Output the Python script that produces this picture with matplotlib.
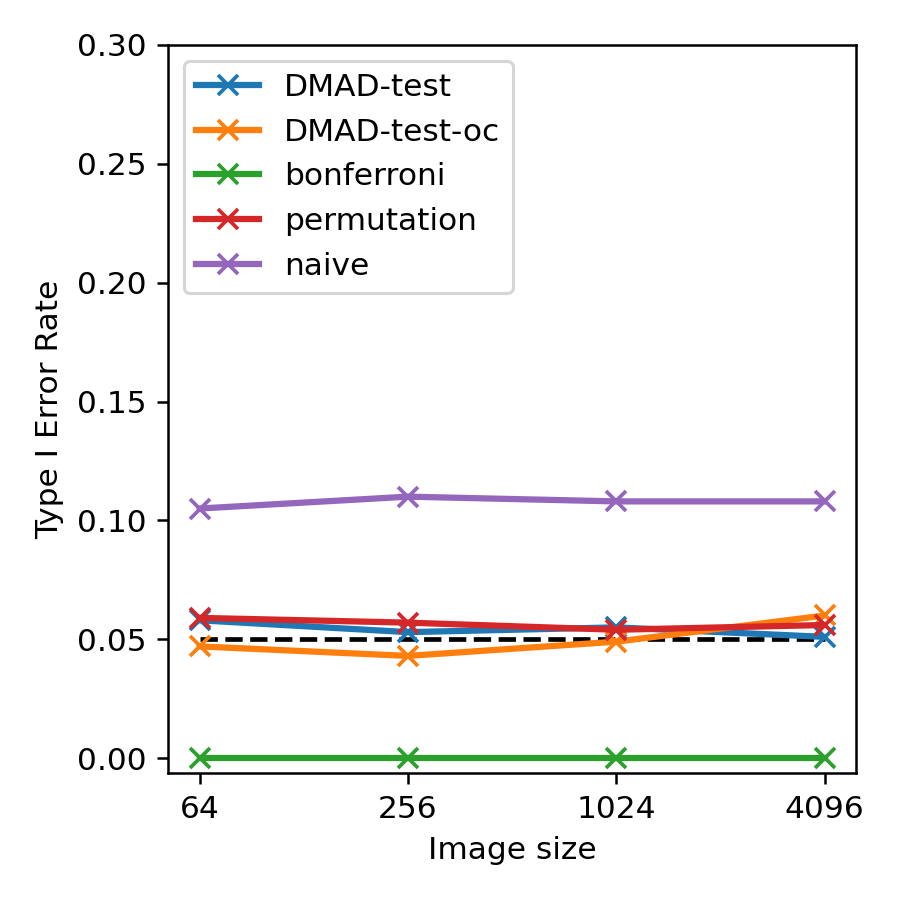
import matplotlib
matplotlib.use("Agg")
import matplotlib.pyplot as plt

image_sizes = [64, 256, 1024, 4096]
methods = ["DMAD-test", "DMAD-test-oc", "bonferroni", "permutation", "naive"]
dmad_test = [0.058, 0.053, 0.055, 0.051]
dmad_test_oc = [0.047, 0.043, 0.049, 0.060]
bonferroni = [0.0, 0.0, 0.0, 0.0]
permutation = [0.059, 0.057, 0.054, 0.056]
naive = [0.105, 0.110, 0.108, 0.108]
alpha = 0.05


def main() -> None:
    fig, ax = plt.subplots(figsize=(4, 4), dpi=225)
    fig.subplots_adjust(left=0.187, right=0.951, top=0.95, bottom=0.141)

    ax.plot(image_sizes, [alpha] * len(image_sizes), "k--", linewidth=1.5)
    for name, rates in zip(methods, [dmad_test, dmad_test_oc, bonferroni, permutation, naive]):
        ax.plot(image_sizes, rates, marker="x", linewidth=2, markersize=6.5,
                markeredgewidth=1.2, label=name)

    ax.set_xscale("log", base=2)
    ax.set_xticks(image_sizes)
    ax.set_xticklabels([str(s) for s in image_sizes])
    ax.minorticks_off()
    ax.set_ylim(-0.0063, 0.3)
    ax.set_xlabel("Image size")
    ax.set_ylabel("Type I Error Rate")
    ax.legend(loc="upper left")

    plt.savefig("out.png")
    plt.close()


if __name__ == "__main__":
    main()
